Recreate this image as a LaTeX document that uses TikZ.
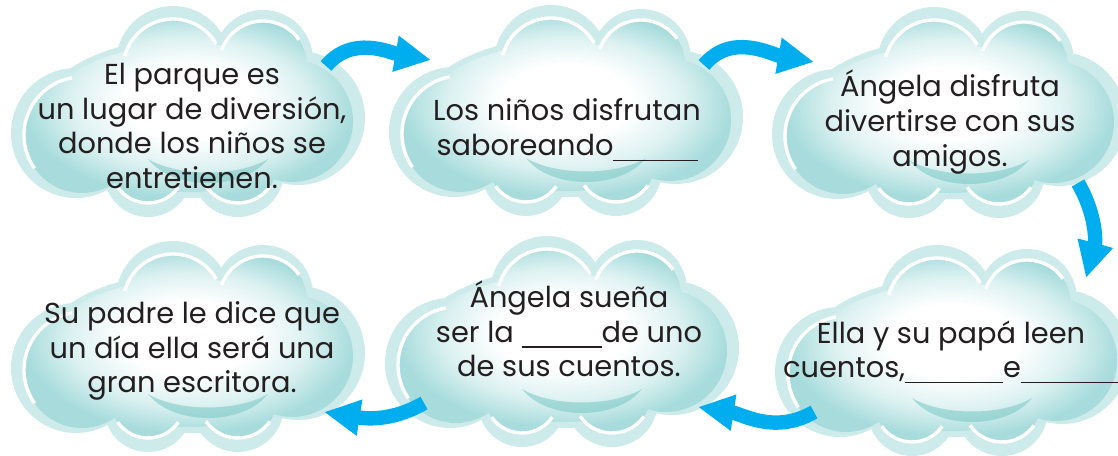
\documentclass[tikz,border=0pt]{standalone}
\usepackage{fontspec}
\setmainfont{Poppins}
\usetikzlibrary{arrows.meta,positioning}
\definecolor{nubeborde}{RGB}{206,235,236}
\definecolor{nubeteal}{RGB}{168,220,220}
\definecolor{nubesombra}{RGB}{120,200,196}
\definecolor{azulflecha}{RGB}{0,174,239}
\definecolor{textonegro}{RGB}{35,31,32}
\pgfdeclareradialshading{nubegrad}{\pgfpoint{0bp}{3bp}}{color(0bp)=(white); color(10bp)=(white); color(18bp)=(nubeteal!40); color(25bp)=(nubeteal); color(50bp)=(nubeteal)}
\newcommand{\raya}[1]{\rule[-4pt]{#1}{1pt}}
\tikzset{
  texto/.style={align=center, text=textonegro, inner sep=0pt, font=\fontsize{20.5}{24.7}\selectfont},
  flecha/.style={-{Triangle[length=0.9cm,width=0.85cm]}, line width=0.36cm, draw=azulflecha},
  brillo/.style={white, line width=2.4pt},
  nube/.pic={
    \fill[nubeborde] (0,-5) ellipse [x radius=150, y radius=80]
      (-112,-20) circle [radius=65] (110,-5) circle [radius=67]
      (-15,50) circle [radius=57] (75,53) circle [radius=50]
      (-40,-60) circle [radius=44] (50,-58) circle [radius=46];
    \shade[shading=nubegrad] (0,-5) ellipse [x radius=145, y radius=74]
      (-106,-22) circle [radius=58] (104,-8) circle [radius=61]
      (-15,44) circle [radius=50] (75,48) circle [radius=44]
      (-40,-53) circle [radius=37] (50,-51) circle [radius=39];
    \draw[brillo] (-15,44) ++(165:50) arc [start angle=165, end angle=30, radius=50];
    \draw[brillo] (75,48) ++(160:44) arc [start angle=160, end angle=35, radius=44];
    \draw[brillo] (-106,-22) ++(100:58) arc [start angle=100, end angle=215, radius=58];
    \draw[brillo] (-40,-53) ++(215:37) arc [start angle=215, end angle=325, radius=37];
    \draw[brillo] (50,-51) ++(215:39) arc [start angle=215, end angle=325, radius=39];
    \fill[nubesombra, opacity=.55] (-40,-46) .. controls (-10,-64) and (50,-64) .. (80,-46)
      .. controls (55,-78) and (-15,-78) .. cycle;
    \coordinate (-outE) at (138,47);
    \coordinate (-inW) at (-135,52);
    \coordinate (-outS) at (129,-69);
    \coordinate (-inN) at (134,74);
    \coordinate (-outW) at (-138,-60);
    \coordinate (-inE) at (136,-64);
  }
}
\begin{document}
\begin{tikzpicture}[x=0.025cm, y=0.025cm]
  \useasboundingbox (0,0) rectangle (1118,455);
  \clip (0,0) rectangle (1118,455);

  \pic (c1) at (188,342) {nube};
  \pic (c2) at (566,343) {nube};
  \pic (c3) at (949,341) {nube};
  \pic (c4) at (188,107) {nube};
  \pic (c5) at (562,112) {nube};
  \pic (c6) at (952,103) {nube};

  \node[texto] (t1) at (192,329) {El parque es\\un lugar de diversión,\\donde los niños se\\entretienen.};
  \node[texto] (t2) at (567,325) {Los niños disfrutan\\saboreando\raya{2.1cm}};
  \node[texto] (t3) at (950,333) {Ángela disfruta\\divertirse con sus\\amigos.};
  \node[texto] (t4) at (192,104) {Su padre le dice que\\un día ella será una\\gran escritora.};
  \node[texto] (t5) at (569,126) {Ángela sueña\\ser la \raya{2cm}de uno\\de sus cuentos.};
  \node[texto] (t6) at (951,103) {Ella y su papá leen\\cuentos,\raya{2.45cm}e\raya{2.45cm}};

  \foreach \a/\b/\o/\i in {c1-outE/c2-inW/50/170, c2-outE/c3-inW/50/170, c3-outS/c6-inN/-60/75,
                           c6-outW/c5-inE/-150/-9, c5-outW/c4-inE/-150/-9}
    \draw[flecha] (\a) to[out=\o,in=\i] (\b);
\end{tikzpicture}
\end{document}
